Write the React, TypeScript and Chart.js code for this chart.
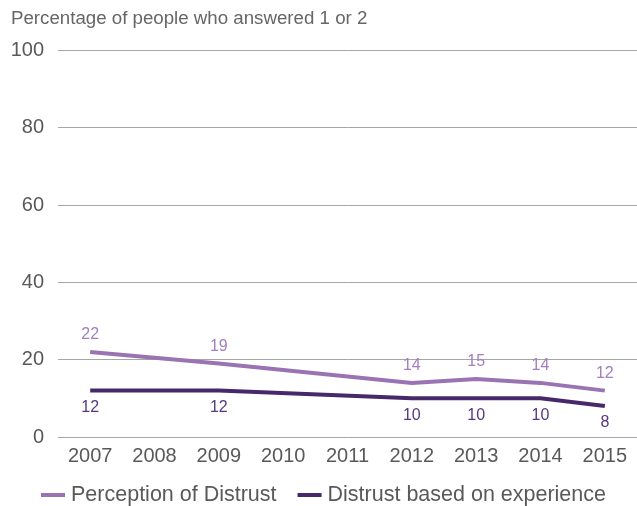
import React, { useEffect, useRef } from "react";
import { Chart, registerables } from "chart.js";

Chart.register(...registerables);

const years = ["2007", "2008", "2009", "2010", "2011", "2012", "2013", "2014", "2015"];
const perception: (number | null)[] = [22, null, 19, null, null, 14, 15, 14, 12];
const experience: (number | null)[] = [12, null, 12, null, null, 10, 10, 10, 8];
const seriesNames = ["Perception of Distrust", "Distrust based on experience"];
const titleText = "Percentage of people who answered 1 or 2";

const LIGHT = "#9a73b3";
const DARK = "#46286b";
const LIGHT_LABEL = "#a27fbd";
const DARK_LABEL = "#55387f";
const FONT = "'Liberation Sans', Arial, sans-serif";

const labelPlugin = {
  id: "pointLabels",
  afterDatasetsDraw(chart: any) {
    const ctx = chart.ctx;
    ctx.save();
    ctx.font = `16px ${FONT}`;
    ctx.textAlign = "center";
    ctx.textBaseline = "middle";
    chart.data.datasets.forEach((ds: any, di: number) => {
      const meta = chart.getDatasetMeta(di);
      ds.data.forEach((v: number | null, i: number) => {
        if (v === null || v === undefined) return;
        const el = meta.data[i];
        ctx.fillStyle = di === 0 ? LIGHT_LABEL : DARK_LABEL;
        const dy = di === 0 ? -17 : 17;
        ctx.fillText(String(v), el.x, el.y + dy);
      });
    });
    ctx.restore();
  },
};

const legendPlugin = {
  id: "customLegend",
  afterDraw(chart: any) {
    const ctx = chart.ctx;
    ctx.save();
    ctx.font = `21.5px ${FONT}`;
    ctx.textBaseline = "middle";
    const boxW = 24;
    const gapBox = 6;
    const gapItem = 21;
    const items = chart.data.datasets.map((ds: any) => ({
      label: ds.label,
      color: ds.borderColor,
      w: boxW + gapBox + ctx.measureText(ds.label).width,
    }));
    const total = items.reduce((s: number, it: any) => s + it.w, 0) + gapItem * (items.length - 1);
    let x = 323.5 - total / 2;
    const y = 495;
    items.forEach((it: any) => {
      ctx.fillStyle = it.color;
      ctx.fillRect(x, y - 2, boxW, 4);
      ctx.fillStyle = "#595959";
      ctx.fillText(it.label, x + boxW + gapBox, y);
      x += it.w + gapItem;
    });
    ctx.restore();
  },
};

export default function App() {
  const ref = useRef<HTMLCanvasElement>(null);
  useEffect(() => {
    document.body.style.margin = "0";
    const chart = new Chart(ref.current!, {
      type: "line",
      data: {
        labels: years,
        datasets: [
          {
            label: seriesNames[0],
            data: perception,
            borderColor: LIGHT,
            backgroundColor: LIGHT,
            borderWidth: 4,
            pointRadius: 0,
            spanGaps: true,
            tension: 0,
          },
          {
            label: seriesNames[1],
            data: experience,
            borderColor: DARK,
            backgroundColor: DARK,
            borderWidth: 4,
            pointRadius: 0,
            spanGaps: true,
            tension: 0,
          },
        ],
      },
      options: {
        animation: false,
        responsive: false,
        layout: { padding: { left: 11, right: 0, top: 0, bottom: 31 } },
        plugins: {
          title: {
            display: true,
            text: titleText,
            align: "start",
            color: "#666",
            font: { family: FONT, size: 18.7, weight: "normal" },
            padding: { top: 8, bottom: 20 },
          },
          legend: { display: false },
          tooltip: { enabled: false },
        },
        scales: {
          x: {
            offset: true,
            grid: { display: false, drawTicks: false },
            border: { display: false },
            ticks: { color: "#595959", font: { family: FONT, size: 20 }, padding: 7 },
          },
          y: {
            min: 0,
            max: 100,
            grid: { color: "#a6a6a6", drawTicks: false },
            border: { display: false },
            ticks: { stepSize: 20, color: "#595959", font: { family: FONT, size: 20 }, padding: 14 },
            afterFit: (scale: any) => {
              scale.width = 47;
            },
          },
        },
      },
      plugins: [labelPlugin, legendPlugin],
    });
    return () => chart.destroy();
  }, []);
  return (
    <div style={{ width: 637, height: 506 }}>
      <canvas ref={ref} width={637} height={506} />
    </div>
  );
}
